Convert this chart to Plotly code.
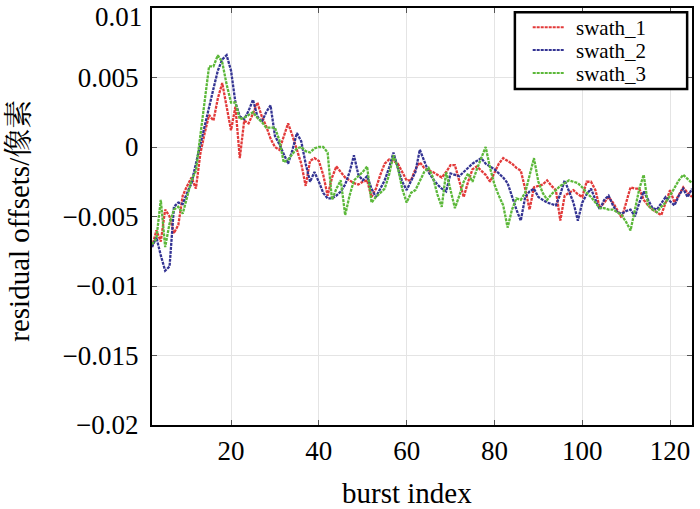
import plotly.graph_objects as go

burst = list(range(2, 126))

swath_1 = [-0.0072, -0.0060, -0.0068, -0.0045, -0.0050, -0.0062, -0.0056, -0.0035, -0.0028, -0.0022,
           -0.0030, -0.0005, 0.0010, 0.0023, 0.0019, 0.0035, 0.0046, 0.0028, 0.0012, 0.0029,
           -0.0008, 0.0019, 0.0017, 0.0024, 0.0032, 0.0022, 0.0015, 0.0006, 0.0000, -0.0002,
           0.0008, 0.0017, 0.0008, -0.0002, -0.0012, -0.0028, -0.0010, -0.0008, -0.0010, -0.0020,
           -0.0035, -0.0022, -0.0014, -0.0018, -0.0022, -0.0024, -0.0026, -0.0027, -0.0025, -0.0024,
           -0.0036, -0.0030, -0.0020, -0.0012, -0.0009, -0.0010, -0.0012, -0.0018, -0.0024, -0.0024,
           -0.0016, -0.0011, -0.0015, -0.0017, -0.0018, -0.0020, -0.0022, -0.0018, -0.0013, -0.0013,
           -0.0024, -0.0036, -0.0025, -0.0016, -0.0014, -0.0017, -0.0020, -0.0025, -0.0018, -0.0012,
           -0.0008, -0.0010, -0.0012, -0.0015, -0.0017, -0.0030, -0.0045, -0.0029, -0.0028, -0.0027,
           -0.0024, -0.0028, -0.0031, -0.0053, -0.0035, -0.0033, -0.0031, -0.0034, -0.0036, -0.0025,
           -0.0025, -0.0031, -0.0044, -0.0040, -0.0036, -0.0040, -0.0046, -0.0051, -0.0040, -0.0029,
           -0.0030, -0.0030, -0.0038, -0.0042, -0.0045, -0.0047, -0.0049, -0.0040, -0.0031, -0.0040,
           -0.0035, -0.0029, -0.0033, -0.0036]

swath_2 = [-0.0072, -0.0065, -0.0078, -0.0089, -0.0086, -0.0043, -0.0040, -0.0041, -0.0033, -0.0026,
           -0.0012, 0.0002, 0.0016, 0.0030, 0.0042, 0.0055, 0.0063, 0.0066, 0.0055, 0.0032,
           0.0022, 0.0020, 0.0026, 0.0034, 0.0022, 0.0018, 0.0025, 0.0030, 0.0008, 0.0002,
           -0.0005, -0.0012, -0.0002, 0.0010, 0.0004, -0.0012, -0.0025, -0.0018, -0.0025, -0.0033,
           -0.0037, -0.0037, -0.0035, -0.0032, -0.0027, -0.0018, -0.0006, -0.0020, -0.0024, -0.0021,
           -0.0030, -0.0036, -0.0030, -0.0024, -0.0015, -0.0004, -0.0015, -0.0025, -0.0031, -0.0024,
           -0.0018, -0.0002, -0.0010, -0.0018, -0.0023, -0.0027, -0.0030, -0.0032, -0.0019, -0.0020,
           -0.0021, -0.0018, -0.0015, -0.0012, -0.0010, -0.0008, -0.0012, -0.0014, -0.0016, -0.0019,
           -0.0022, -0.0026, -0.0036, -0.0045, -0.0053, -0.0036, -0.0032, -0.0030, -0.0036, -0.0038,
           -0.0040, -0.0041, -0.0042, -0.0034, -0.0024, -0.0032, -0.0040, -0.0053, -0.0040, -0.0034,
           -0.0030, -0.0038, -0.0045, -0.0038, -0.0035, -0.0042, -0.0047, -0.0048, -0.0046, -0.0045,
           -0.0050, -0.0040, -0.0032, -0.0038, -0.0044, -0.0045, -0.0040, -0.0036, -0.0039, -0.0042,
           -0.0035, -0.0030, -0.0036, -0.0030]

swath_3 = [-0.0070, -0.0066, -0.0038, -0.0072, -0.0055, -0.0045, -0.0043, -0.0048, -0.0036, -0.0024,
           -0.0017, 0.0008, 0.0035, 0.0058, 0.0058, 0.0066, 0.0061, 0.0045, 0.0032, 0.0032,
           0.0020, 0.0021, 0.0023, 0.0025, 0.0021, 0.0018, 0.0014, 0.0014, 0.0014, 0.0005,
           -0.0011, -0.0009, -0.0005, -0.0001, 0.0000, -0.0003, -0.0004, -0.0001, 0.0000, 0.0000,
           -0.0004, -0.0038, -0.0030, -0.0024, -0.0049, -0.0035, -0.0024, -0.0021, -0.0018, -0.0014,
           -0.0040, -0.0036, -0.0033, -0.0030, -0.0020, -0.0006, -0.0015, -0.0030, -0.0040, -0.0033,
           -0.0031, -0.0025, -0.0018, -0.0015, -0.0022, -0.0034, -0.0043, -0.0018, -0.0030, -0.0044,
           -0.0035, -0.0025, -0.0019, -0.0025, -0.0016, -0.0008, 0.0000, -0.0015, -0.0027, -0.0035,
           -0.0042, -0.0058, -0.0045, -0.0037, -0.0038, -0.0033, -0.0020, -0.0008, -0.0025, -0.0033,
           -0.0038, -0.0034, -0.0031, -0.0028, -0.0026, -0.0024, -0.0025, -0.0026, -0.0029, -0.0033,
           -0.0036, -0.0040, -0.0044, -0.0044, -0.0045, -0.0045, -0.0047, -0.0049, -0.0054, -0.0060,
           -0.0045, -0.0030, -0.0020, -0.0042, -0.0045, -0.0047, -0.0043, -0.0040, -0.0035, -0.0029,
           -0.0024, -0.0020, -0.0023, -0.0026]

series_names = ["swath_1", "swath_2", "swath_3"]
series_colors = ["#e23a3a", "#343493", "#5cb83a"]

x_ticks = [20, 40, 60, 80, 100, 120]
y_ticks = [0.01, 0.005, 0, -0.005, -0.01, -0.015, -0.02]
y_tick_text = ["0.01", "0.005", "0", "\u22120.005", "\u22120.01", "\u22120.015", "\u22120.02"]

x_title = "burst index"
y_title = "residual offsets/像素"

serif = "Liberation Serif, Times New Roman, Noto Serif CJK SC, Noto Sans CJK SC, serif"
dash_style = "3px,1px"
tick_size = 27

fig = go.Figure()
for name, vals, col in zip(series_names, [swath_1, swath_2, swath_3], series_colors):
    fig.add_trace(go.Scatter(x=burst, y=vals, mode="lines", name=name, showlegend=False,
                             line=dict(color=col, width=2.3, dash=dash_style)))

axis_common = dict(showline=True, linecolor="black", linewidth=2, mirror="ticks",
                   ticks="inside", ticklen=5, tickcolor="#555555", tickwidth=1,
                   showgrid=True, gridcolor="#e4e4e4", gridwidth=1, zeroline=False,
                   tickfont=dict(family=serif, size=tick_size, color="black"))

# The top tick label sits at the very edge of the page; draw it as an annotation
# so it is not dropped, and leave its axis slot blank.
axis_tick_text = [""] + y_tick_text[1:]

# Manual legend (box, sample lines, labels) in paper coordinates
legend_x0, legend_x1, legend_y0, legend_y1 = 0.672, 0.991, 0.806, 0.990
row_y = [0.954, 0.899, 0.844]
shapes = [dict(type="rect", xref="paper", yref="paper", x0=legend_x0, x1=legend_x1,
               y0=legend_y0, y1=legend_y1, line=dict(color="black", width=2.5),
               fillcolor="white", layer="above")]
annotations = []
for name, col, yy in zip(series_names, series_colors, row_y):
    shapes.append(dict(type="line", xref="paper", yref="paper", x0=0.705, x1=0.763,
                       y0=yy, y1=yy, line=dict(color=col, width=2, dash=dash_style),
                       layer="above"))
    annotations.append(dict(xref="paper", yref="paper", x=0.784, y=yy, text=name,
                            showarrow=False, xanchor="left", yanchor="middle",
                            height=21, valign="middle", borderpad=0,
                            font=dict(family=serif, size=21, color="black")))

annotations.append(dict(xref="paper", yref="y", x=0, y=y_ticks[0], text=y_tick_text[0],
                        showarrow=False, xanchor="right", yanchor="top",
                        xshift=-8, yshift=8,
                        font=dict(family=serif, size=tick_size, color="black")))
annotations.append(dict(xref="paper", yref="paper", x=0.472, y=-0.163, text=x_title,
                        showarrow=False, xanchor="center", yanchor="middle",
                        font=dict(family=serif, size=29, color="black")))
annotations.append(dict(xref="paper", yref="paper", x=-0.247, y=0.489, text=y_title,
                        showarrow=False, xanchor="center", yanchor="middle", textangle=-90,
                        font=dict(family=serif, size=29, color="black")))

fig.update_layout(
    width=700, height=509,
    margin=dict(l=152, r=6, t=8, b=84),
    paper_bgcolor="white", plot_bgcolor="white",
    font=dict(family=serif, color="black"),
    xaxis=dict(range=[2, 125], tickvals=x_ticks, ticklabelstandoff=1, **axis_common),
    yaxis=dict(range=[-0.0200001, 0.0100001], tickvals=y_ticks, ticktext=axis_tick_text,
               ticklabelstandoff=6, **axis_common),
    shapes=shapes,
    annotations=annotations,
    showlegend=False,
)

fig.write_html("out.html")
